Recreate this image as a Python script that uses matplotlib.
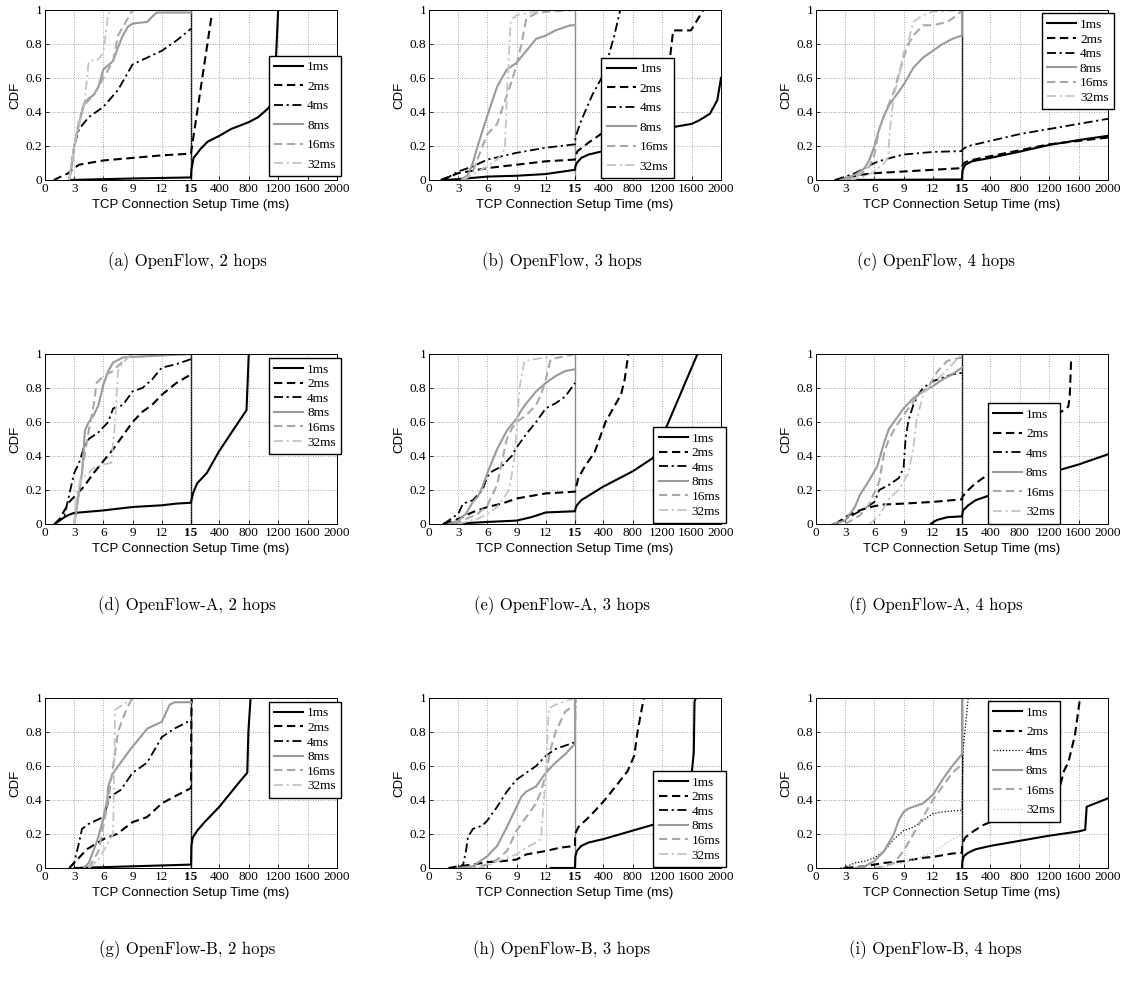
import numpy as np
import matplotlib
matplotlib.use("Agg")
import matplotlib.pyplot as plt

plt.rcParams['font.family'] = ['Liberation Serif', 'DejaVu Serif']

LABELS = ["1ms", "2ms", "4ms", "8ms", "16ms", "32ms"]
CAPTIONS = ["(a) OpenFlow, 2 hops", "(b) OpenFlow, 3 hops", "(c) OpenFlow, 4 hops",
            "(d) OpenFlow-A, 2 hops", "(e) OpenFlow-A, 3 hops", "(f) OpenFlow-A, 4 hops",
            "(g) OpenFlow-B, 2 hops", "(h) OpenFlow-B, 3 hops", "(i) OpenFlow-B, 4 hops"]
XTICKS = [0, 3, 6, 9, 12, 15, 400, 800, 1200, 1600, 2000]
YTICKS = [0, 0.2, 0.4, 0.6, 0.8, 1]
YTICKLABELS = ["0", "0.2", "0.4", "0.6", "0.8", "1"]

# (a) OpenFlow, 2 hops  -- (ms, CDF)
a_1ms = [(2.5, 0), (6, 0.005), (10, 0.01), (15, 0.015), (20, 0.06), (50, 0.13), (150, 0.185),
         (240, 0.225), (400, 0.26), (560, 0.30), (800, 0.34), (930, 0.37), (1060, 0.42),
         (1130, 0.46), (1175, 0.76), (1200, 1.0)]
a_2ms = [(0.9, 0), (2.4, 0.04), (3, 0.07), (3.5, 0.09), (6, 0.115), (9, 0.13), (12, 0.145),
         (15, 0.155), (15.5, 0.16), (300, 0.98)]
a_4ms = [(2.5, 0), (3, 0.2), (3.5, 0.3), (4.5, 0.37), (6, 0.43), (7.5, 0.53), (8, 0.58), (9, 0.68),
         (10.5, 0.72), (12, 0.76), (13.5, 0.82), (15, 0.89)]
a_8ms = [(2.5, 0), (2.8, 0.1), (3, 0.2), (3.5, 0.33), (4, 0.45), (4.5, 0.48), (5, 0.5), (5.5, 0.55),
         (6, 0.65), (7, 0.7), (7.5, 0.78), (8, 0.85), (8.5, 0.9), (9, 0.92), (10.5, 0.93),
         (11, 0.96), (11.5, 0.985), (15, 0.985)]
a_16ms = [(2.5, 0), (3, 0.2), (3.5, 0.35), (4, 0.44), (5, 0.5), (5.5, 0.55), (6, 0.6), (7, 0.7),
          (7.5, 0.85), (8.5, 0.95), (9, 1.0), (15, 1.0)]
a_32ms = [(2.5, 0), (3, 0.2), (3.5, 0.33), (4, 0.42), (4.5, 0.7), (5.5, 0.71), (6, 0.75),
          (6.5, 0.98), (7, 1.0), (15, 1.0)]

# (b) OpenFlow, 3 hops
b_1ms = [(1.5, 0), (3, 0.005), (6, 0.02), (9, 0.025), (12, 0.035), (15, 0.06), (20, 0.08),
         (40, 0.1), (100, 0.13), (200, 0.15), (400, 0.17), (800, 0.24), (1200, 0.3), (1600, 0.33),
         (1700, 0.35), (1850, 0.39), (1950, 0.47), (2000, 0.6)]
b_2ms = [(1.2, 0), (3, 0.04), (6, 0.07), (9, 0.09), (12, 0.11), (15, 0.12), (20, 0.14), (50, 0.17),
         (200, 0.22), (400, 0.28), (800, 0.4), (1200, 0.58), (1280, 0.62), (1350, 0.88),
         (1590, 0.88), (1620, 0.9), (1760, 1.0)]
b_4ms = [(1.5, 0), (3, 0.05), (4.5, 0.08), (6, 0.12), (9, 0.16), (12, 0.19), (15, 0.21), (20, 0.25),
         (100, 0.35), (250, 0.5), (400, 0.62), (550, 0.85), (630, 1.0)]
b_8ms = [(3.3, 0), (4, 0.03), (4.5, 0.1), (5, 0.2), (6, 0.38), (7, 0.55), (8, 0.65), (9, 0.69),
         (10, 0.76), (11, 0.83), (12, 0.85), (13, 0.88), (14.5, 0.91), (15, 0.91)]
b_16ms = [(3.5, 0), (4.5, 0.05), (5.5, 0.2), (6, 0.27), (7, 0.33), (8, 0.5), (8.5, 0.58), (9, 0.68),
          (9.5, 0.8), (10, 0.95), (11, 0.98), (12, 0.99), (15, 1.0)]
b_32ms = [(3.5, 0), (5, 0.05), (6, 0.08), (7, 0.12), (7.8, 0.18), (8, 0.5), (8.4, 0.94), (9, 0.97),
          (12, 1.0), (15, 1.0)]

# (c) OpenFlow, 4 hops
c_1ms = [(2, 0), (15, 0.003), (17, 0.03), (25, 0.06), (60, 0.09), (150, 0.11), (400, 0.13),
         (800, 0.167), (1200, 0.206), (1600, 0.235), (2000, 0.26)]
c_2ms = [(2, 0), (3, 0.01), (4.5, 0.03), (6, 0.04), (9, 0.05), (12, 0.06), (15, 0.07), (20, 0.085),
         (40, 0.1), (120, 0.115), (400, 0.14), (800, 0.175), (1200, 0.21), (1600, 0.23), (2000, 0.25)]
c_4ms = [(2, 0), (3, 0.02), (4, 0.04), (5, 0.07), (6, 0.1), (7, 0.12), (9, 0.15), (12, 0.165),
         (15, 0.17), (20, 0.18), (100, 0.2), (400, 0.23), (800, 0.27), (1200, 0.3), (1600, 0.33),
         (2000, 0.36)]
c_8ms = [(2.5, 0), (4, 0.03), (5, 0.07), (5.5, 0.12), (6, 0.2), (6.5, 0.3), (7, 0.38), (7.5, 0.44),
         (8, 0.48), (9, 0.56), (10, 0.66), (11, 0.72), (12, 0.76), (13, 0.8), (14, 0.83), (15, 0.85),
         (15.2, 1.0)]
c_16ms = [(3, 0), (4.5, 0.03), (5.5, 0.08), (6, 0.15), (6.5, 0.3), (7, 0.38), (8, 0.52), (9, 0.72),
          (9.5, 0.8), (10, 0.85), (11, 0.91), (12, 0.91), (13.5, 0.93), (14.5, 0.97), (15, 1.0)]
c_32ms = [(3.5, 0), (5, 0.02), (6, 0.05), (7, 0.1), (7.4, 0.13), (7.6, 0.3), (8, 0.5), (8.5, 0.6),
          (9, 0.75), (9.5, 0.82), (10, 0.93), (11, 0.97), (12, 0.99), (15, 1.0)]

# (d) OpenFlow-A, 2 hops
d_1ms = [(1, 0), (1.5, 0.02), (2, 0.04), (2.5, 0.055), (3, 0.065), (6, 0.08), (9, 0.1), (12, 0.11),
         (13.5, 0.12), (15, 0.125), (20, 0.14), (50, 0.19), (100, 0.24), (230, 0.3), (400, 0.43),
         (600, 0.56), (770, 0.67), (800, 1.0)]
d_2ms = [(1, 0), (1.5, 0.03), (2, 0.08), (2.5, 0.13), (3, 0.16), (4, 0.22), (5, 0.3), (6, 0.37),
         (7, 0.44), (8, 0.52), (9, 0.6), (10, 0.66), (11, 0.7), (12, 0.76), (13.5, 0.83), (15, 0.88)]
d_4ms = [(1, 0), (2, 0.05), (3, 0.3), (3.5, 0.36), (4, 0.45), (4.5, 0.5), (5.5, 0.54), (6, 0.57),
         (6.5, 0.6), (7, 0.68), (8, 0.7), (9, 0.78), (10, 0.8), (11, 0.85), (12, 0.92), (13.5, 0.94),
         (15, 0.97)]
d_8ms = [(3, 0), (3.4, 0.15), (3.8, 0.3), (4.1, 0.55), (4.5, 0.6), (5, 0.64), (5.5, 0.7), (6, 0.82),
         (6.5, 0.9), (7, 0.95), (8, 0.98), (15, 1.0)]
d_16ms = [(3, 0), (3.5, 0.2), (4, 0.38), (4.5, 0.55), (5, 0.7), (5.3, 0.83), (6, 0.87), (7, 0.9),
          (7.5, 0.93), (8.5, 0.98), (9, 1.0), (15, 1.0)]
d_32ms = [(3, 0), (3.3, 0.2), (3.8, 0.27), (4.5, 0.3), (5, 0.33), (6, 0.35), (6.8, 0.36), (7.2, 0.6),
          (7.5, 0.9), (8, 0.95), (9, 1.0), (15, 1.0)]

# (e) OpenFlow-A, 3 hops
e_1ms = [(1.5, 0), (3, 0.003), (6, 0.012), (9, 0.02), (10.5, 0.04), (12, 0.068), (15, 0.075),
         (20, 0.09), (40, 0.11), (100, 0.14), (250, 0.18), (400, 0.22), (800, 0.31), (1080, 0.39),
         (1680, 1.0)]
e_2ms = [(1.5, 0), (3, 0.03), (4.5, 0.07), (6, 0.1), (7.5, 0.12), (9, 0.15), (12, 0.18), (15, 0.19),
         (60, 0.27), (150, 0.34), (280, 0.42), (430, 0.6), (560, 0.7), (640, 0.76), (690, 0.85),
         (740, 1.0)]
e_4ms = [(1.5, 0), (3, 0.06), (3.5, 0.12), (4.5, 0.14), (5.5, 0.2), (6, 0.28), (6.5, 0.31),
         (7.5, 0.34), (8.5, 0.4), (9, 0.45), (10, 0.53), (11, 0.6), (12, 0.68), (13, 0.71),
         (14, 0.75), (15, 0.83)]
e_8ms = [(2, 0), (3, 0.02), (3.8, 0.06), (4.5, 0.13), (5, 0.16), (5.5, 0.22), (6, 0.3), (7, 0.44),
         (8, 0.55), (9, 0.62), (9.5, 0.67), (10, 0.71), (11, 0.78), (12, 0.83), (13, 0.87), (14, 0.9),
         (15, 0.91)]
e_16ms = [(2.5, 0), (3, 0.01), (5, 0.06), (6, 0.11), (7, 0.23), (7.5, 0.37), (8, 0.5), (8.5, 0.56),
          (9, 0.6), (10, 0.64), (11, 0.7), (11.5, 0.76), (12, 0.85), (12.5, 0.97), (15, 1.0)]
e_32ms = [(3, 0), (5, 0.03), (6, 0.06), (7, 0.1), (8, 0.18), (8.3, 0.22), (8.8, 0.4), (9.3, 0.8),
          (9.8, 0.96), (12, 0.98), (13, 1.0), (15, 1.0)]

# (f) OpenFlow-A, 4 hops
f_1ms = [(11.8, 0), (12, 0.01), (12.5, 0.025), (13.5, 0.04), (15, 0.045), (20, 0.06), (30, 0.08),
         (100, 0.11), (200, 0.14), (400, 0.17), (800, 0.23), (1200, 0.3), (1600, 0.35), (2000, 0.41)]
f_2ms = [(2, 0), (3, 0.04), (4, 0.07), (5, 0.09), (6, 0.105), (7, 0.115), (9, 0.12), (12, 0.13),
         (15, 0.145), (20, 0.16), (100, 0.2), (200, 0.24), (400, 0.3), (800, 0.45), (1200, 0.6),
         (1300, 0.64), (1460, 0.69), (1480, 0.75), (1500, 0.98)]
f_4ms = [(2, 0), (3, 0.03), (4, 0.06), (5, 0.09), (6, 0.13), (6.5, 0.2), (7.5, 0.23), (8.5, 0.27),
         (9, 0.33), (9.2, 0.5), (9.5, 0.61), (10, 0.7), (10.5, 0.76), (11, 0.8), (12, 0.84),
         (13, 0.86), (14, 0.88), (15, 0.89)]
f_8ms = [(1.7, 0), (3, 0.02), (4, 0.1), (4.5, 0.17), (5.5, 0.26), (6.3, 0.34), (7, 0.48), (7.5, 0.56),
         (8, 0.6), (8.5, 0.64), (9, 0.68), (10, 0.74), (11, 0.78), (12, 0.81), (13, 0.85), (14, 0.88),
         (15, 0.92)]
f_16ms = [(3, 0), (4.5, 0.05), (5.5, 0.12), (6.5, 0.25), (7, 0.42), (7.5, 0.5), (8.5, 0.6),
          (9.5, 0.68), (10.5, 0.76), (11.5, 0.8), (12.5, 0.9), (13.5, 0.96), (15, 0.98)]
f_32ms = [(5.5, 0), (6.5, 0.05), (7.5, 0.15), (8.5, 0.2), (9.5, 0.3), (10, 0.45), (10.3, 0.6),
          (11, 0.76), (11.5, 0.8), (13, 0.88), (15, 1.0)]

# (g) OpenFlow-B, 2 hops
g_1ms = [(3, 0), (6, 0.005), (9, 0.01), (12, 0.015), (15, 0.02), (17, 0.05), (20, 0.13), (40, 0.18),
         (100, 0.22), (200, 0.27), (400, 0.36), (550, 0.44), (700, 0.52), (780, 0.56), (795, 0.8),
         (825, 1.0)]
g_2ms = [(2.5, 0), (3, 0.03), (4.3, 0.11), (6, 0.17), (7.4, 0.2), (9, 0.27), (10.5, 0.3), (12, 0.38),
         (13.3, 0.42), (15, 0.47), (20, 0.9), (25, 1.0)]
g_4ms = [(2.5, 0), (3, 0.03), (3.5, 0.15), (3.8, 0.23), (4.5, 0.26), (6, 0.3), (6.7, 0.42),
         (7.8, 0.46), (9, 0.56), (10.5, 0.62), (12, 0.77), (13.3, 0.82), (15, 0.87)]
g_8ms = [(4, 0), (4.5, 0.03), (5.3, 0.15), (5.9, 0.27), (6.4, 0.4), (6.5, 0.48), (6.9, 0.55),
         (7.9, 0.63), (8.8, 0.7), (9.8, 0.77), (10.5, 0.82), (12, 0.86), (12.8, 0.96),
         (13.3, 0.975), (15, 0.975)]
g_16ms = [(4.5, 0), (5.5, 0.1), (6, 0.25), (6.5, 0.4), (7, 0.6), (7.5, 0.8), (8, 0.88), (8.5, 0.95),
          (9, 1.0), (15, 1.0)]
g_32ms = [(4.5, 0), (5.5, 0.05), (6.5, 0.15), (7, 0.2), (7.2, 0.93), (8, 0.96), (9, 1.0), (15, 1.0)]

# (h) OpenFlow-B, 3 hops
h_1ms = [(12.5, 0), (15, 0.0), (16, 0.02), (20, 0.07), (40, 0.1), (100, 0.13), (200, 0.15),
         (400, 0.17), (800, 0.22), (1200, 0.27), (1550, 0.4), (1600, 0.55), (1630, 0.68),
         (1640, 0.98), (1660, 1.0)]
h_2ms = [(2, 0), (3, 0.01), (4.5, 0.02), (6, 0.035), (7.5, 0.04), (9, 0.05), (10, 0.08), (11, 0.09),
         (12, 0.1), (13.5, 0.12), (15, 0.13), (16, 0.2), (60, 0.24), (230, 0.31), (400, 0.39),
         (550, 0.47), (730, 0.57), (820, 0.66), (865, 0.8), (950, 1.0)]
h_4ms = [(3, 0), (3.5, 0.02), (3.8, 0.1), (4, 0.18), (4.5, 0.23), (5.5, 0.25), (6, 0.28), (7, 0.36),
         (8, 0.45), (9, 0.52), (10, 0.56), (11, 0.6), (12, 0.66), (13, 0.7), (14, 0.72), (15, 0.74),
         (20, 1.0)]
h_8ms = [(3, 0), (4.5, 0.01), (5, 0.03), (6, 0.07), (7, 0.13), (8, 0.24), (8.5, 0.3), (9, 0.36),
         (9.5, 0.42), (10, 0.45), (11, 0.48), (11.5, 0.52), (12, 0.56), (13, 0.62), (14, 0.67),
         (15, 0.73), (15.2, 1.0)]
h_16ms = [(4, 0), (6, 0.02), (7, 0.05), (8, 0.1), (8.5, 0.16), (9, 0.22), (10, 0.3), (11, 0.38),
          (11.5, 0.45), (12, 0.55), (12.5, 0.7), (13, 0.8), (14, 0.92), (15, 0.96)]
h_32ms = [(5, 0), (6, 0.01), (7, 0.04), (8, 0.06), (9, 0.08), (10, 0.12), (11, 0.15), (11.5, 0.17),
          (12, 0.55), (12.3, 0.94), (13, 0.96), (14, 0.98), (15, 1.0)]

# (i) OpenFlow-B, 4 hops
i_1ms = [(15, 0), (20, 0.04), (40, 0.07), (100, 0.09), (200, 0.11), (400, 0.13), (800, 0.16),
         (1200, 0.19), (1600, 0.215), (1690, 0.225), (1710, 0.36), (2000, 0.41)]
i_2ms = [(3, 0), (4, 0.005), (5, 0.01), (6, 0.02), (7, 0.03), (8, 0.035), (9, 0.04), (10, 0.05),
         (11, 0.06), (12, 0.065), (13, 0.075), (14, 0.085), (15, 0.09), (16, 0.14), (60, 0.18),
         (150, 0.21), (290, 0.25), (400, 0.27), (1000, 0.38), (1290, 0.44), (1330, 0.45),
         (1400, 0.57), (1460, 0.62), (1550, 0.78), (1620, 1.0)]
i_4ms = [(2.5, 0), (3, 0.005), (4, 0.03), (5, 0.04), (6, 0.06), (7, 0.1), (8, 0.17), (9, 0.22),
         (10, 0.24), (11, 0.28), (12, 0.32), (13, 0.33), (15, 0.34), (30, 0.7), (100, 1.0)]
i_8ms = [(4, 0), (5, 0.01), (6, 0.04), (7, 0.1), (8, 0.2), (8.5, 0.28), (9, 0.33), (9.5, 0.35),
         (10, 0.36), (11, 0.38), (12, 0.43), (13, 0.52), (14, 0.6), (15, 0.67), (15.5, 1.0)]
i_16ms = [(6, 0), (7, 0.01), (8, 0.03), (9, 0.1), (10, 0.2), (11, 0.3), (12, 0.4), (13, 0.48),
          (14, 0.56), (15, 0.61)]
i_32ms = [(5.5, 0), (7, 0.005), (8, 0.02), (9, 0.03), (10, 0.05), (11, 0.07), (12, 0.09),
          (13, 0.13), (14, 0.17), (15, 0.2)]

PANELS = [
    [a_1ms, a_2ms, a_4ms, a_8ms, a_16ms, a_32ms],
    [b_1ms, b_2ms, b_4ms, b_8ms, b_16ms, b_32ms],
    [c_1ms, c_2ms, c_4ms, c_8ms, c_16ms, c_32ms],
    [d_1ms, d_2ms, d_4ms, d_8ms, d_16ms, d_32ms],
    [e_1ms, e_2ms, e_4ms, e_8ms, e_16ms, e_32ms],
    [f_1ms, f_2ms, f_4ms, f_8ms, f_16ms, f_32ms],
    [g_1ms, g_2ms, g_4ms, g_8ms, g_16ms, g_32ms],
    [h_1ms, h_2ms, h_4ms, h_8ms, h_16ms, h_32ms],
    [i_1ms, i_2ms, i_4ms, i_8ms, i_16ms, i_32ms],
]

DASH = (0, (4, 2.2))
DASHDOT = (0, (5, 2, 1.2, 2))
STYLES = [
    dict(color="k", ls="-", lw=1.5),
    dict(color="k", ls=DASH, lw=1.5),
    dict(color="k", ls=DASHDOT, lw=1.3),
    dict(color="#9a9a9a", ls="-", lw=1.5),
    dict(color="#a8a8a8", ls=DASH, lw=1.5),
    dict(color="#c4c4c4", ls=DASHDOT, lw=1.3),
]
# panel (i) draws 4ms and 32ms dotted
STYLES_I = list(STYLES)
STYLES_I[2] = dict(color="k", ls=(0, (1, 1.5)), lw=0.9)
STYLES_I[5] = dict(color="#c4c4c4", ls=(0, (1, 1.5)), lw=1.0)

# legend anchor (upper-left corner, axes fraction) and whether it is the tall variant
LEGEND_POS = [((0.767, 0.73), True), ((0.59, 0.718), True), ((0.773, 0.98), False),
              ((0.767, 0.976), False), ((0.768, 0.57), False), ((0.588, 0.71), True),
              ((0.767, 0.977), False), ((0.768, 0.57), False), ((0.588, 0.98), True)]
VLINE_COLOR = ["k", "#8a8a8a", "k", "k", "#8a8a8a", "k", "k", "#8a8a8a", "k"]


def fwd(x):
    x = np.asarray(x, dtype=float)
    return np.where(x <= 15, x, 15 + (x - 15) * 15.0 / 1985.0)


def inv(u):
    u = np.asarray(u, dtype=float)
    return np.where(u <= 15, u, 15 + (u - 15) * 1985.0 / 15.0)


W, H = 1123, 992
fig = plt.figure(figsize=(W / 100, H / 100), dpi=100)

col_left = [45, 429, 816]
row_top = [10, 354, 698]
ax_w, ax_h = 292, 170
cap_y = [262, 606, 950]

for k, curves in enumerate(PANELS):
    r, c = divmod(k, 3)
    ax = fig.add_axes([col_left[c] / W, 1 - (row_top[r] + ax_h) / H, ax_w / W, ax_h / H])
    ax.set_xscale('function', functions=(fwd, inv))
    styles = STYLES_I if k == 8 else STYLES
    for curve, st, lab in zip(curves, styles, LABELS):
        xs, ys = zip(*curve)
        ax.plot(xs, ys, label=lab, **st)
    ax.axvline(15, color=VLINE_COLOR[k], lw=1.0, zorder=1)
    ax.set_xlim(0, 2000)
    ax.set_ylim(0, 1)
    ax.set_xticks(XTICKS)
    ax.set_xticklabels([str(t) for t in XTICKS])
    ax.set_yticks(YTICKS)
    ax.set_yticklabels(YTICKLABELS)
    ax.xaxis.get_ticklabels()[5].set_fontweight('bold')
    ax.minorticks_off()
    ax.tick_params(direction='in', length=3, width=0.6, labelsize=9.5, pad=2)
    ax.grid(True, ls=(0, (1, 2)), color='#888888', lw=0.6)
    for s in ax.spines.values():
        s.set_linewidth(0.7)
    ax.set_xlabel("TCP Connection Setup Time (ms)", fontfamily='Liberation Sans', fontsize=9.5, labelpad=3)
    ax.set_ylabel("CDF", fontfamily='Liberation Sans', fontsize=9.5, labelpad=3)

    (lx, ly), tall = LEGEND_POS[k]
    leg = ax.legend(loc='upper left', bbox_to_anchor=(lx, ly), borderaxespad=0, fancybox=False,
                    edgecolor='k', framealpha=1, fontsize=9.5, handlelength=2.2, handletextpad=0.3,
                    labelspacing=0.55 if tall else 0.18, borderpad=0.4)
    leg.get_frame().set_linewidth(1.0)

    fig.text((c + 0.5) / 3, 1 - cap_y[r] / H, CAPTIONS[k], ha='center', va='center',
             fontfamily='cmr10', fontsize=12)

fig.savefig("out.png", dpi=100)
